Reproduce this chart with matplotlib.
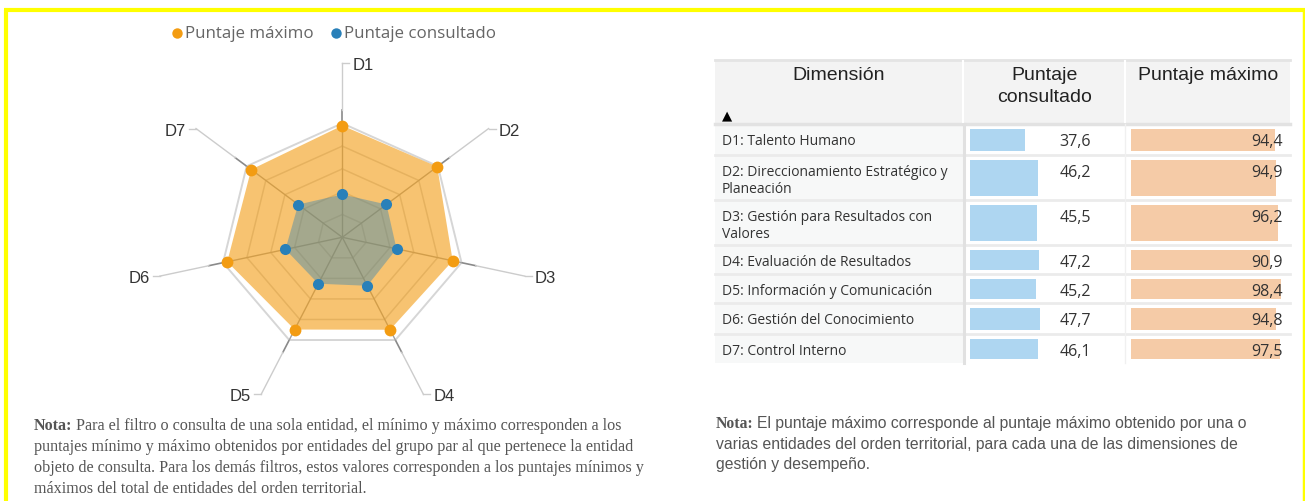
import numpy as np
import matplotlib
matplotlib.use("Agg")
import matplotlib.pyplot as plt

# data
dims = ["D1", "D2", "D3", "D4", "D5", "D6", "D7"]
dim_names = ["D1: Talento Humano",
             "D2: Direccionamiento Estratégico y\nPlaneación",
             "D3: Gestión para Resultados con\nValores",
             "D4: Evaluación de Resultados",
             "D5: Información y Comunicación",
             "D6: Gestión del Conocimiento",
             "D7: Control Interno"]
consultado = [37.6, 46.2, 45.5, 47.2, 45.2, 47.7, 46.1]
maximo = [94.4, 94.9, 96.2, 90.9, 98.4, 94.8, 97.5]
# the radar's orange polygon, as drawn
radar_maximo = [98.0, 99.3, 92.6, 90.0, 89.8, 96.5, 95.3]
ring_levels = [20, 40, 60, 80, 100]

W, H = 1305, 502
ORANGE = "#F39C12"
BLUE = "#2980B9"

fig = plt.figure(figsize=(W / 100, H / 100), dpi=100)


def px_axes(x0, y0, x1, y1, z=0):
    a = fig.add_axes([x0 / W, 1 - y1 / H, (x1 - x0) / W, (y1 - y0) / H], zorder=z)
    a.axis("off")
    a.patch.set_alpha(0)
    return a


bg = px_axes(0, 0, W, H, z=0)
bg.set_xlim(0, W)
bg.set_ylim(H, 0)

# yellow frame (bottom edge is cut off)
bg.plot([6, 6], [10.5, H], color="#FFFF00", lw=3, solid_capstyle="butt")
bg.plot([4, W], [10.5, 10.5], color="#FFFF00", lw=3, solid_capstyle="butt")
bg.plot([1303.5, 1303.5], [10.5, H], color="#FFFF00", lw=2.5, solid_capstyle="butt")

# ---------------- radar ----------------
cx, cy, sx, sy = 342.3, 238.3, 1.223, 1.14
rx0, ry0, rx1, ry1 = 60, 40, 620, 420
ax_r = px_axes(rx0, ry0, rx1, ry1, z=1)
ax_r.set_xlim((rx0 - cx) / sx, (rx1 - cx) / sx)
ax_r.set_ylim((cy - ry1) / sy, (cy - ry0) / sy)

theta = 2 * np.pi * np.arange(len(dims)) / len(dims)
st, ct = np.sin(theta), np.cos(theta)

for lv in ring_levels:
    ax_r.plot(np.append(lv * st, lv * st[0]), np.append(lv * ct, lv * ct[0]),
              color="#d2d2d2" if lv < 100 else "#d6d6d6", lw=1.1 if lv < 100 else 1.4, zorder=1)

for s, c, name in zip(st, ct, dims):
    ax_r.plot([0, 100 * s], [0, 100 * c], color="#a0a0a0", lw=1, zorder=1)
    ax_r.plot([101 * s, 112 * s], [101 * c, 112 * c], color="#8a8a8a", lw=1.2, zorder=1)
    ax_r.plot([112 * s, 153 * s], [112 * c, 153 * c], color="#cccccc", lw=1, zorder=1)
    sign = 1 if s >= -1e-9 else -1
    ex, ey = 153 * s, 153 * c
    ax_r.plot([ex, ex + sign * 7 / sx], [ey, ey], color="#cccccc", lw=1, zorder=1)
    ax_r.text(ex + sign * 10 / sx, ey - 1.5 / sy, name, ha="left" if sign > 0 else "right",
              va="center", fontsize=12, family="Liberation Sans", color="#333333")

mx = np.array(radar_maximo)
cv = np.array(consultado)
ax_r.fill(mx * st, mx * ct, color=ORANGE, alpha=0.6, lw=0, zorder=2)
ax_r.fill(cv * st, cv * ct, color=BLUE, alpha=0.4, lw=0, zorder=3)
ax_r.plot(mx * st, mx * ct, "o", color=ORANGE, ms=8.5, mec="none", zorder=5)
ax_r.plot(cv * st, cv * ct, "o", color=BLUE, ms=8, mec="none", zorder=5)

# legend
bg.plot([177], [34], "o", color=ORANGE, ms=7.5, mec="none")
bg.text(185, 34, "Puntaje máximo", fontsize=12.2, family="Open Sans", color="#666666", va="center")
bg.plot([336], [34], "o", color=BLUE, ms=7.5, mec="none")
bg.text(344, 34, "Puntaje consultado", fontsize=12.2, family="Open Sans", color="#666666", va="center")

# ---------------- table ----------------
tl, c1, c2, tr = 715, 963, 1125, 1290
row_edges = [125, 156, 201, 246, 275, 304, 335, 364]

bg.add_patch(plt.Rectangle((tl, 62), tr - tl, 62, color="#f3f3f3", lw=0))
bg.add_patch(plt.Rectangle((tl, 125), c1 - tl, 239, color="#f7f8f8", lw=0))
bg.plot([tl, tr], [60.5, 60.5], color="#e4e4e4", lw=2)
bg.plot([tl, tr], [124.5, 124.5], color="#e2e2e2", lw=2.5)
for xx in (c1, c2):
    bg.plot([xx, xx], [62, 123], color="white", lw=1.5)
for yy in row_edges[1:-1]:
    bg.plot([tl, tr], [yy, yy], color="#ebebeb", lw=2)
bg.plot([c1 + 0.5, c1 + 0.5], [125, 364], color="#e1e1e1", lw=2.2)
bg.plot([c2, c2], [125, 364], color="#f0f0f0", lw=1)

hdr = dict(fontsize=14, family="Liberation Sans", color="#222222", ha="center", va="center")
bg.text((tl + c1) / 2, 76, "Dimensión", **hdr)
bg.text((c1 + c2) / 2 + 1, 76, "Puntaje", **hdr)
bg.text((c1 + c2) / 2 + 1, 98, "consultado", **hdr)
bg.text((c2 + tr) / 2 + 1, 76, "Puntaje máximo", **hdr)
bg.text(727, 116, "▲", fontsize=9.5, family="DejaVu Sans", color="black", ha="center", va="center")

tops = np.array(row_edges[:-1])
bots = np.array(row_edges[1:])
bar_y = (tops + 5 + bots - 4) / 2
bar_h = (bots - 4) - (tops + 5)

ax_c = px_axes(970, 125, 1117, 364, z=2)
ax_c.set_xlim(0, 100)
ax_c.set_ylim(364, 125)
ax_c.barh(bar_y, consultado, height=bar_h, color="#AED6F1", lw=0)

ax_m = px_axes(1131, 125, 1283.5, 364, z=2)
ax_m.set_xlim(0, 100)
ax_m.set_ylim(364, 125)
ax_m.barh(bar_y, maximo, height=bar_h, color="#F5CBA7", lw=0)

ov = px_axes(0, 0, W, H, z=3)
ov.set_xlim(0, W)
ov.set_ylim(H, 0)

for top, name, vc, vm in zip(tops, dim_names, consultado, maximo):
    for i, ln in enumerate(name.split("\n")):
        ov.text(722, top + 20 + 17.5 * i, ln, fontsize=10, family="Open Sans", color="#333333",
                va="baseline", ha="left")
    ov.text(1091, top + 21, f"{vc:.1f}".replace(".", ","), fontsize=11.5, family="Open Sans",
            color="#333333", ha="right", va="baseline")
    ov.text(1283, top + 21, f"{vm:.1f}".replace(".", ","), fontsize=11.5, family="Open Sans",
            color="#333333", ha="right", va="baseline")

# ---------------- notes ----------------
renderer = fig.canvas.get_renderer()


def nota_line(x, y, rest, rest_font, size, gap):
    t = ov.text(x, y, "Nota:", fontsize=size, family="Liberation Serif", weight="bold",
                color="#555555", va="baseline")
    bb = t.get_window_extent(renderer)
    ov.text(bb.x1 + gap, y, rest, fontsize=size, family=rest_font, color="#555555", va="baseline")


nota_line(34, 430, "Para el filtro o consulta de una sola entidad, el mínimo y máximo corresponden a los",
          "Liberation Serif", 11.6, 3)
left_lines = ["puntajes mínimo y máximo obtenidos por entidades del grupo par al que pertenece la entidad",
              "objeto de consulta. Para los demás filtros, estos valores corresponden a los puntajes mínimos y",
              "máximos del total de entidades del orden territorial."]
for i, ln in enumerate(left_lines):
    ov.text(34, 451 + 21 * i, ln, fontsize=11.6, family="Liberation Serif", color="#555555", va="baseline")

nota_line(716, 428, "El puntaje máximo corresponde al puntaje máximo obtenido por una o",
          "Liberation Sans", 11.3, 3)
right_lines = ["varias entidades del orden territorial, para cada una de las dimensiones de",
               "gestión y desempeño."]
for i, ln in enumerate(right_lines):
    ov.text(716, 449 + 20.5 * i, ln, fontsize=11.3, family="Liberation Sans", color="#555555", va="baseline")

fig.savefig("out.png", dpi=100, facecolor="white")
